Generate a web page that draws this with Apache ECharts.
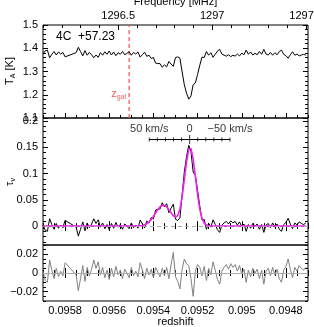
<!DOCTYPE html>
<html><head><meta charset="utf-8">
<script src="https://cdn.jsdelivr.net/npm/echarts@6/dist/echarts.min.js"></script>
<style>html,body{margin:0;padding:0;background:#fff}#c{width:314px;height:327px}</style>
</head><body><div id="c"></div>
<script>
// ---- data ----
const redshift = [0.09590,0.09589,0.09588,0.09587,0.09586,0.09585,0.09584,0.09583,0.09582,0.09581,0.09580,
0.09575,0.09574,0.09573,0.09572,0.09571,0.09570,0.09569,0.09568,0.09567,0.09566,
0.09565,0.09564,0.09563,0.09562,0.09561,0.09560,0.09559,0.09558,0.09557,0.09556,
0.09555,0.09554,0.09553,0.09552,0.09551,0.09550,0.09549,0.09548,0.09547,0.09546,
0.09545,0.09544,0.09543,0.09542,0.09541,0.09540,0.09539,0.09538,0.09537,0.09536,
0.09535,0.09534,0.09533,0.09532,0.09531,0.09530,0.09529,0.09528,0.09527,0.09526,
0.09525,0.09524,0.09523,0.09522,0.09521,0.09520,0.09519,0.09518,0.09517,0.09516,
0.09515,0.09514,0.09513,0.09512,0.09511,0.09510,0.09509,0.09508,0.09507,0.09506,
0.09505,0.09504,0.09503,0.09502,0.09501,0.09500,0.09499,0.09498,0.09497,0.09496,
0.09495,0.09494,0.09493,0.09492,0.09491,0.09490,0.09489,0.09488,0.09487,0.09486,
0.09485,0.09484,0.09483,0.09482,0.09481,0.09480,0.09479,0.09478,0.09477,0.09476,
0.09475,0.09474,0.09473,0.09472,0.09471];

const tempA = [1.375,1.389,1.392,1.359,1.374,1.386,1.371,1.384,1.375,1.382,1.363,
1.381,1.404,1.386,1.367,1.390,1.370,1.382,1.372,1.359,1.371,
1.361,1.381,1.370,1.385,1.374,1.388,1.371,1.384,1.368,1.381,
1.374,1.386,1.372,1.378,1.385,1.370,1.382,1.375,1.384,1.362,
1.372,1.383,1.365,1.370,1.356,1.360,1.336,1.334,1.334,1.318,
1.329,1.320,1.343,1.332,1.322,1.360,1.363,1.357,1.298,1.243,
1.207,1.181,1.195,1.243,1.251,1.287,1.327,1.362,1.360,1.386,
1.370,1.381,1.361,1.374,1.388,1.395,1.375,1.370,1.366,1.372,
1.364,1.370,1.366,1.375,1.367,1.379,1.372,1.392,1.374,1.384,
1.371,1.378,1.372,1.386,1.374,1.395,1.375,1.371,1.382,1.370,
1.381,1.372,1.386,1.392,1.374,1.368,1.357,1.372,1.385,1.370,
1.375,1.367,1.371,1.374,1.370];

const tauObs = [0.002,-0.008,-0.010,0.014,0.003,-0.006,0.005,-0.004,0.002,-0.003,0.011,
-0.002,-0.019,-0.006,0.008,-0.009,0.006,-0.003,0.004,0.014,0.005,
0.012,-0.002,0.006,-0.005,0.003,-0.007,0.005,-0.004,0.007,-0.002,
0.003,-0.006,0.004,0.000,-0.005,0.006,-0.003,0.002,-0.004,0.0116,
0.0042,-0.0035,0.0096,0.0058,0.0164,0.0133,0.0309,0.0324,0.0327,0.0446,
0.0366,0.0427,0.0254,0.0343,0.0418,0.0130,0.0110,0.0152,0.0597,0.1035,
0.1326,0.1540,0.1421,0.1030,0.0966,0.0685,0.0379,0.0116,0.0127,-0.0061,
0.0055,-0.002,0.012,0.003,-0.007,-0.012,0.002,0.006,0.009,0.004,
0.010,0.006,0.009,0.002,0.008,-0.001,0.004,-0.010,0.003,-0.004,
0.005,0.000,0.004,-0.006,0.003,-0.012,0.002,0.005,-0.003,0.006,
-0.002,0.004,-0.006,-0.010,0.003,0.007,0.015,0.004,-0.005,0.006,
0.002,0.008,0.005,0.003,0.006];

const tauFit = [0,0,0,0,0,0,0,0,0,0,0,
0,0,0,0,0,0,0,0,0,0,
0,0,0,0,0,0,0,0,0,0,
0,0,0,0,0,0,0,0,0,0.0006,
0.0012,0.0025,0.0046,0.0078,0.0124,0.0183,0.0249,0.0314,0.0367,0.0396,
0.0396,0.0367,0.0314,0.0253,0.0198,0.0170,0.0200,0.0322,0.0557,0.0885,
0.1226,0.1460,0.1481,0.1280,0.0946,0.0595,0.0319,0.0146,0.0057,0.0019,
0.0005,0,0,0,0,0,0,0,0,0,
0,0,0,0,0,0,0,0,0,0,
0,0,0,0,0,0,0,0,0,0,
0,0,0,0,0,0,0,0,0,0,
0,0,0,0,0];

const tauRes = [0.002,-0.008,-0.010,0.014,0.003,-0.006,0.005,-0.004,0.002,-0.003,0.011,
-0.002,-0.019,-0.006,0.008,-0.009,0.006,-0.003,0.004,0.014,0.005,
0.012,-0.002,0.006,-0.005,0.003,-0.007,0.005,-0.004,0.007,-0.002,
0.003,-0.006,0.004,0.000,-0.005,0.006,-0.003,0.002,-0.004,0.011,
0.003,-0.006,0.005,-0.002,0.004,-0.005,0.006,0.001,-0.004,0.005,
-0.003,0.006,-0.006,0.009,0.022,-0.004,-0.009,-0.017,0.004,0.015,
0.010,0.008,-0.006,-0.025,0.002,0.009,0.006,-0.003,0.007,-0.008,
0.005,-0.002,0.012,0.003,-0.007,-0.012,0.002,0.006,0.009,0.004,
0.010,0.006,0.009,0.002,0.008,-0.001,0.004,-0.010,0.003,-0.004,
0.005,0.000,0.004,-0.006,0.003,-0.012,0.002,0.005,-0.003,0.006,
-0.002,0.004,-0.006,-0.010,0.003,0.007,0.015,0.004,-0.005,0.006,
0.002,0.008,0.005,0.003,0.006];

const zTickLabels = [0.0958,0.0956,0.0954,0.0952,0.0950,0.0948];
const freqTickLabels = [1296.5,1297.0,1297.5];
const tempTickLabels = [1.1,1.2,1.3,1.4,1.5];
const tauTickLabels = [0,0.05,0.1,0.15,0.2];
const resTickLabels = [-0.02,0,0.02];
const velTicks = [50,40,30,20,10,0,-10,-20,-30,-40,-50];
const velLabels = [50,0,-50];
const zGal = 0.09551;
const zVel0 = 0.095236;
const sourceName = '4C  +57.23';

// ---- helpers ----
const C = 299792.458;
const zOfVel = v => zVel0 + v / C * (1 + zVel0);
function range(a, b, step) { const out = []; const n = Math.round((b - a) / step); for (let k = 0; k <= n; k++) out.push(+(a + k * step).toFixed(8)); return out; }
const FONT = 'Liberation Sans';
const Z_MIN = 0.0947, Z_MAX = 0.0959;
const F_MIN = 1296.10, F_MAX = 1297.51;
const zMinor = range(0.09470, 0.09590, 0.00005);
const fMinor = range(1296.1, 1297.5, 0.1);
const minus = s => s.replace('-', '\u2212');
const fmt = v => minus(String(+(+v).toFixed(5)));

function pair(common, major, minor, majLen, minLen, label) {
  const a = Object.assign({type:'value', axisLine:{show:false}, splitLine:{show:false}}, common, {
    axisTick:{show:true, inside:true, length:majLen, customValues:major, lineStyle:{color:'#000', width:1}},
    axisLabel: label ? Object.assign({show:true, customValues:major, color:'#000', fontFamily:FONT, fontSize:11, formatter:fmt, hideOverlap:false, showMinLabel:true, showMaxLabel:true}, label) : {show:false}
  });
  const b = Object.assign({type:'value', axisLine:{show:false}, splitLine:{show:false}}, common, {
    axisTick:{show:true, inside:true, length:minLen, customValues:minor, lineStyle:{color:'#000', width:1}},
    axisLabel:{show:false}
  });
  delete b.name;
  return [a, b];
}

const grids = [
  {left:43, right:6, top:25, height:93},
  {left:43, right:6, top:118, height:127},
  {left:43, right:6, top:245, height:56}
].map(g => Object.assign(g, {show:true, containLabel:false, outerBoundsMode:'none', borderColor:'#000', borderWidth:1, backgroundColor:'rgba(0,0,0,0)'}));

const zc = gi => ({gridIndex:gi, min:Z_MIN, max:Z_MAX, inverse:true});
const xAxis = [
  ...pair(Object.assign(zc(0), {position:'bottom'}), zTickLabels, zMinor, 5, 3, null),
  ...pair({gridIndex:0, min:F_MIN, max:F_MAX, position:'top', name:'Frequency [MHz]', nameLocation:'middle', nameGap:18,
           nameTextStyle:{fontFamily:FONT, fontSize:11, color:'#000'}}, freqTickLabels, fMinor, 5, 3, {margin:4, formatter:v=>String(+v)}),
  ...pair(Object.assign(zc(1), {position:'bottom'}), zTickLabels, zMinor, 5, 3, null),
  ...pair(Object.assign(zc(1), {position:'top'}), zTickLabels, zMinor, 5, 3, null),
  ...pair(Object.assign(zc(2), {position:'bottom', name:'redshift', nameLocation:'middle', nameGap:14,
           nameTextStyle:{fontFamily:FONT, fontSize:11, color:'#000', verticalAlign:'top'}}), zTickLabels, zMinor, 5, 3, {margin:4}),
  ...pair(Object.assign(zc(2), {position:'top'}), zTickLabels, zMinor, 5, 3, null)
];
const yAxis = [
  ...pair({gridIndex:0, min:1.1, max:1.5, position:'left'}, tempTickLabels, range(1.1,1.5,0.02), 5, 3, {margin:5}),
  ...pair({gridIndex:0, min:1.1, max:1.5, position:'right'}, tempTickLabels, range(1.1,1.5,0.02), 5, 3, null),
  ...pair({gridIndex:1, min:-0.036, max:0.206, position:'left'}, tauTickLabels, range(-0.03,0.2,0.01), 5, 3, {margin:5}),
  ...pair({gridIndex:1, min:-0.036, max:0.206, position:'right'}, tauTickLabels, range(-0.03,0.2,0.01), 5, 3, null),
  ...pair({gridIndex:2, min:-0.03, max:0.03, position:'left'}, resTickLabels, range(-0.03,0.03,0.005), 5, 3, {margin:5}),
  ...pair({gridIndex:2, min:-0.03, max:0.03, position:'right'}, resTickLabels, range(-0.03,0.03,0.005), 5, 3, null)
];

const pts = arr => redshift.map((z, i) => [z, arr[i]]);
const lbl = {fontFamily:FONT, fontSize:11, color:'#000'};

const series = [
  {type:'line', xAxisIndex:0, yAxisIndex:0, data:pts(tempA), symbol:'none', lineStyle:{color:'#000', width:1}, z:3},
  {type:'line', xAxisIndex:0, yAxisIndex:0, data:[[zGal,1.1],[zGal,1.5]], symbol:'none', lineStyle:{color:'#ff5a5a', width:1.3, type:[4,3]}, z:2},
  {type:'scatter', xAxisIndex:0, yAxisIndex:0, data:[[zGal,1.205]], symbolSize:0,
   label:{show:true, position:'left', distance:3, formatter:'{a|z}{b|gal}', rich:{a:{fontFamily:FONT, fontSize:11, color:'#ee3030', lineHeight:14}, b:{fontFamily:FONT, fontSize:7, color:'#ee3030', verticalAlign:'bottom', lineHeight:8}}}},
  {type:'line', xAxisIndex:4, yAxisIndex:4, data:pts(tauObs), symbol:'none', lineStyle:{color:'#000', width:1}, z:3,
   markLine:{silent:true, symbol:'none', label:{show:false}, lineStyle:{color:'#aaa', type:[4,3], width:1}, data:[{yAxis:0}], animation:false}},
  {type:'line', xAxisIndex:4, yAxisIndex:4, data:pts(tauFit), symbol:'none', lineStyle:{color:'#ee22ee', width:1.6}, z:4},
  {type:'line', xAxisIndex:4, yAxisIndex:4, data:[[zOfVel(50),0.165],[zOfVel(-50),0.165]], symbol:'none', lineStyle:{color:'#000', width:1}, z:5},
  {type:'scatter', xAxisIndex:4, yAxisIndex:4, data:velTicks.map(v=>[zOfVel(v),0.165]), symbol:'rect',
   symbolSize:(val, p)=> velTicks[p.dataIndex]===0 ? [1,9] : [1,4], itemStyle:{color:'#000'}, z:5},
  {type:'scatter', xAxisIndex:4, yAxisIndex:4, data:velLabels.map(v=>[zOfVel(v),0.185]), symbolSize:0,
   label:{show:true, position:'inside', formatter:p=> velLabels[p.dataIndex]===0 ? '0' : minus(String(velLabels[p.dataIndex]))+' km/s', ...lbl}},
  {type:'line', xAxisIndex:8, yAxisIndex:8, data:pts(tauRes), symbol:'none', lineStyle:{color:'#808080', width:1}, z:3,
   markLine:{silent:true, symbol:'none', label:{show:false}, lineStyle:{color:'#aaa', type:'solid', width:1}, data:[{yAxis:0}], animation:false}}
];

const graphic = [
  {type:'text', left:56, top:31, style:{text:sourceName, fontFamily:FONT, fontSize:12, fill:'#000'}},
  {type:'text', x:10, y:71, rotation:Math.PI/2, style:{text:'{a|T}{b|A}{a| [K]}', align:'center', verticalAlign:'middle',
    rich:{a:{fontFamily:FONT, fontSize:11, fill:'#000', lineHeight:14}, b:{fontFamily:FONT, fontSize:7, fill:'#000', verticalAlign:'bottom', lineHeight:8}}}},
  {type:'text', x:10, y:182, rotation:Math.PI/2, style:{text:'{a|\u03c4}{b|\u03bd}', align:'center', verticalAlign:'middle',
    rich:{a:{fontFamily:FONT, fontSize:11, fill:'#000', lineHeight:14}, b:{fontFamily:FONT, fontSize:7, fill:'#000', verticalAlign:'bottom', lineHeight:8}}}}
];

const chart = echarts.init(document.getElementById('c'));
chart.setOption({animation:false, grid:grids, xAxis, yAxis, series, graphic});
</script></body></html>
